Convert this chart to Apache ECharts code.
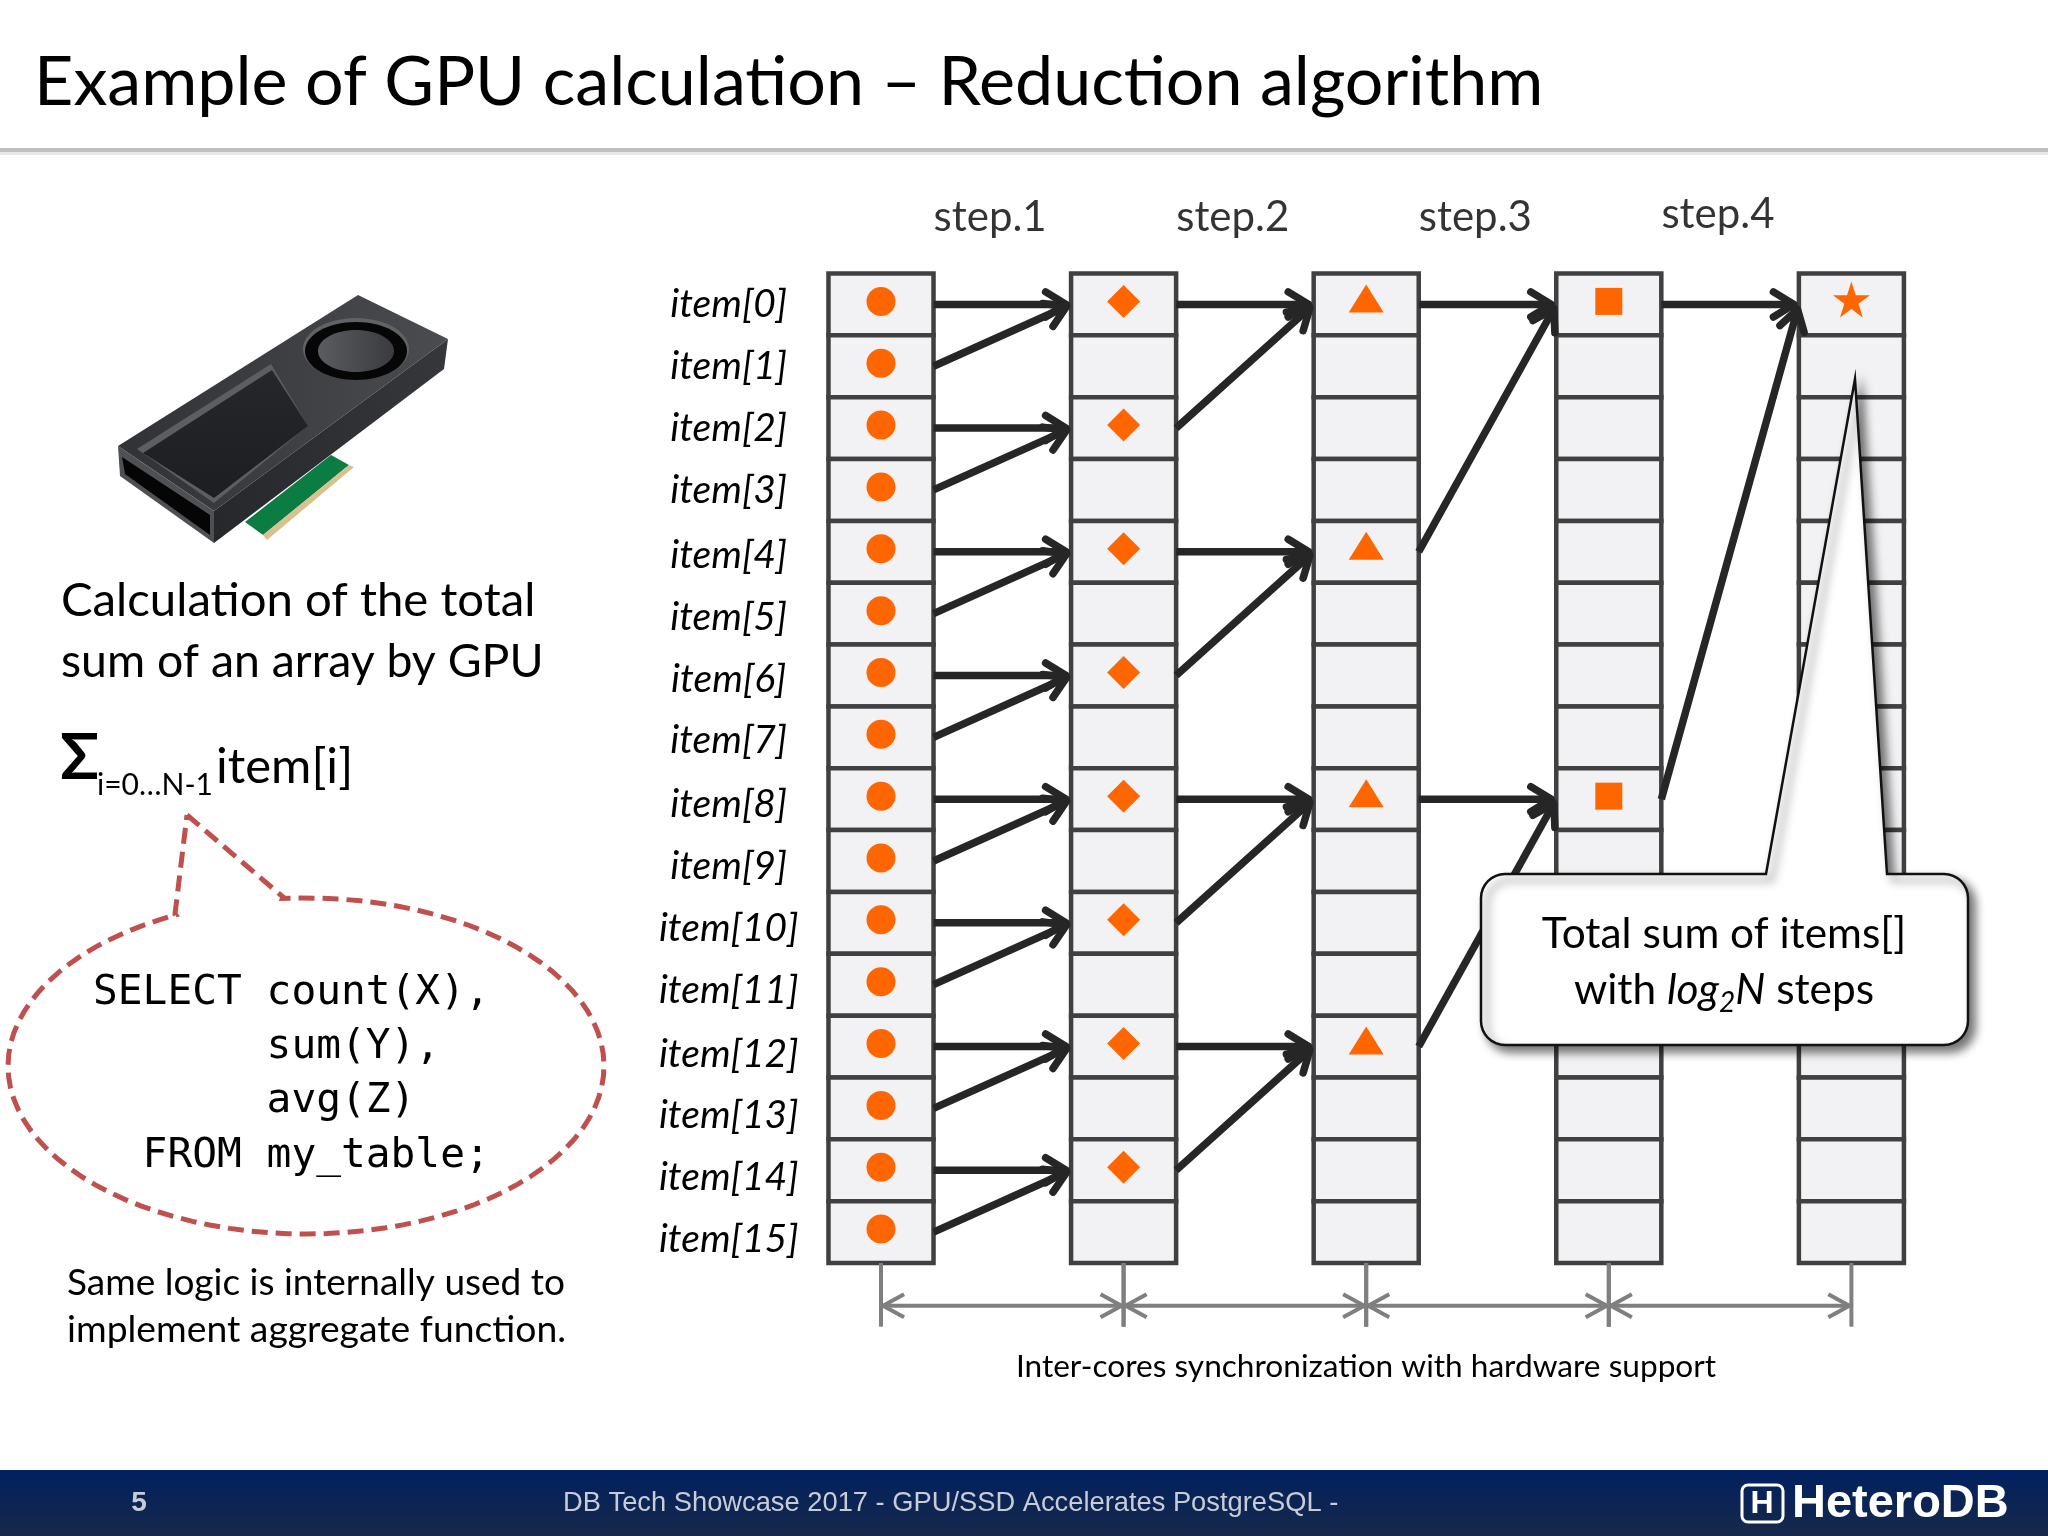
<!DOCTYPE html>
<html>
<head>
<meta charset="utf-8">
<title>Reduction algorithm</title>
<style>html,body{margin:0;padding:0;background:#fff}#chart{width:2048px;height:1536px}</style>
<script src="https://cdn.jsdelivr.net/npm/echarts@6/dist/echarts.min.js"></script>
</head>
<body>
<div id="chart"></div>
<script>
// chart data
const itemLabels = ['item[0]','item[1]','item[2]','item[3]','item[4]','item[5]','item[6]','item[7]','item[8]','item[9]','item[10]','item[11]','item[12]','item[13]','item[14]','item[15]'];
const stepLabels = ['step.1','step.2','step.3','step.4'];
const stepLabelRows = [-1.41,-1.41,-1.41,-1.45];
const columns = [0,1,2,3,4];
const STAR = 'path://M50 0L61.2 34.5H97.6L68.2 55.9L79.4 90.5L50 69.1L20.6 90.5L31.8 55.9L2.4 34.5H38.8Z';
const columnSymbols = ['circle','diamond','triangle','rect',STAR];
const columnSymbolSizes = [29,33,[35,28],27,[37,36]];
const columnSymbolShift = [-3,-3,-6,-3,-5];
// rows that still hold a value in each column
const filledRows = [
    [0,1,2,3,4,5,6,7,8,9,10,11,12,13,14,15],
    [0,2,4,6,8,10,12,14],
    [0,4,8,12],
    [0,8],
    [0]
];
const sqlLines = ['SELECT count(X),','       sum(Y),','       avg(Z)','  FROM my_table;'];

const SANS = 'Lato';
const CELL_W = 0.433;
const SYNC_ROW = 16.19;
const SYNC_END = 16.53;

function txt(x, y, text, size, extra) {
    return {
        type: 'text', x, y, z: 10,
        style: Object.assign({ text, fontSize: size, fontFamily: SANS, fill: '#000', align: 'left', verticalAlign: 'middle' }, extra)
    };
}
function poly(points, fill, extra) {
    return Object.assign({ type: 'polygon', shape: { points }, style: { fill } }, extra);
}
function grad(a, b, horizontal) {
    return { type: 'linear', x: 0, y: 0, x2: horizontal ? 1 : 0, y2: horizontal ? 0 : 1, colorStops: [{ offset: 0, color: a }, { offset: 1, color: b }] };
}
function arcPts(cx, cy, rx, ry, a0, a1, n) {
    const pts = [];
    for (let i = 0; i <= n; i++) {
        const a = a0 + (a1 - a0) * i / n;
        pts.push([cx + rx * Math.cos(a), cy + ry * Math.sin(a)]);
    }
    return pts;
}

// speech bubble with the SQL
function bubblePoints() {
    return [[187, 815], [283, 897]]
        .concat(arcPts(306, 1066, 298, 168, -1.65, 4.26, 90))
        .concat([[175, 914], [187, 815]]);
}
// callout shape at the right
function calloutPoints() {
    const L = 1481, R = 1968, T = 874, B = 1045, r = 24, H = Math.PI / 2;
    return [[1855, 379], [1887, T]]
        .concat(arcPts(R - r, T + r, r, r, -H, 0, 8))
        .concat(arcPts(R - r, B - r, r, r, 0, H, 8))
        .concat(arcPts(L + r, B - r, r, r, H, 2 * H, 8))
        .concat(arcPts(L + r, T + r, r, r, 2 * H, 3 * H, 8))
        .concat([[1766, T]]);
}

// GPU card
const gpuCard = [
    poly([[331,455],[349,465],[263,535],[245,522]], '#0b7d43'),
    poly([[349,465],[354,467],[267,540],[263,535]], '#d9c08f'),
    poly([[118,446],[358,295],[448,339],[214,511]], grad('#303236', '#4a4c50', true)),
    poly([[214,511],[448,339],[444,369],[214,543]], grad('#26282b', '#35373b', true)),
    poly([[118,446],[214,511],[214,543],[120,476]], '#4e5054'),
    poly([[122,457],[210,515],[210,535],[125,474]], '#050506'),
    poly([[137,449],[271,364],[308,426],[214,503]], '#5c5e62'),
    poly([[143,453],[272,370],[308,426],[214,498]], grad('#26272b', '#1d1e21')),
    { type: 'ellipse', shape: { cx: 356, cy: 349, rx: 53, ry: 31 }, style: { fill: '#606266' } },
    { type: 'ellipse', shape: { cx: 356, cy: 351, rx: 51, ry: 29 }, style: { fill: '#060607' } },
    { type: 'ellipse', shape: { cx: 356, cy: 351, rx: 38, ry: 21 }, style: { fill: grad('#5a5c60', '#3a3b3f', true) } }
];

// header and footer
const frame = [
    { type: 'rect', shape: { x: 0, y: 148, width: 2048, height: 4 }, style: { fill: '#bfbfbf' } },
    { type: 'rect', shape: { x: 0, y: 152, width: 2048, height: 3 }, style: { fill: '#e6e6e6' } },
    { type: 'rect', shape: { x: 0, y: 1470, width: 2048, height: 66 }, style: { fill: grad('#002060', '#17294a') } },
    txt(139, 1503, '5', 28, { fontFamily: 'Liberation Sans', fontWeight: 'bold', fill: '#c8ccd4', align: 'center' }),
    txt(563, 1503, 'DB Tech Showcase 2017 - GPU/SSD Accelerates PostgreSQL -', 27.3, { fontFamily: 'Liberation Sans', fill: '#c8ccd4' }),
    { type: 'rect', z: 10, shape: { x: 1742, y: 1485, width: 41, height: 37, r: 6 }, style: { fill: 'none', stroke: '#fff', lineWidth: 3 } },
    txt(1762, 1504, 'H', 32, { fontFamily: 'Liberation Sans', fontWeight: 'bold', fill: '#fff', align: 'center' }),
    txt(1792, 1504, 'HeteroDB', 47, { fontFamily: 'Liberation Sans', fontWeight: 'bold', fill: '#fff' })
];

// left column texts
const leftTexts = [
    txt(61, 601, 'Calculation of the total', 47.3),
    txt(61, 662, 'sum of an array by GPU', 46.4),
    txt(60, 758, 'Σ', 64, { fontWeight: 'bold' }),
    txt(97, 785, 'i=0…N-1', 30),
    txt(216, 767, 'item[i]', 49),
    txt(67, 1283, 'Same logic is internally used to', 37),
    txt(67, 1330, 'implement aggregate function.', 37.3),
    txt(1366, 1367, 'Inter-cores synchronization with hardware support', 31.6, { align: 'center' })
].concat(sqlLines.map((line, i) => txt(93, 993 + i * 54.4, line, 41.2, { fontFamily: 'DejaVu Sans Mono' })));

const bubble = {
    type: 'polyline', z: 5, shape: { points: bubblePoints() },
    style: { fill: 'none', stroke: '#c0504d', lineWidth: 5, lineDash: [16, 8] }
};

const callout = [
    poly(calloutPoints(), '#fff', {
        z: 20,
        style: { fill: '#fff', stroke: '#111', lineWidth: 2.5, shadowBlur: 10, shadowOffsetX: 6, shadowOffsetY: 6, shadowColor: 'rgba(0,0,0,0.55)' }
    }),
    Object.assign(txt(1724, 934, 'Total sum of items[]', 42.4, { align: 'center' }), { z: 21 }),
    Object.assign(txt(1724, 990, '{a|with }{i|log}{s|2}{i|N}{a| steps}', 42, {
        align: 'center',
        rich: {
            a: { fontSize: 42.4, fontFamily: SANS, fill: '#000' },
            i: { fontSize: 42.4, fontFamily: SANS, fontStyle: 'italic', fill: '#000' },
            s: { fontSize: 28, fontFamily: SANS, fontStyle: 'italic', fill: '#000', padding: [26, 0, 0, 0] }
        }
    }), { z: 21 })
];

// series data built from the lists above
const cellData = [];
columns.forEach(c => itemLabels.forEach((_, r) => cellData.push([c, r])));

const arrowData = [];
filledRows.slice(0, -1).forEach((rows, c) => {
    rows.forEach((r, j) => arrowData.push([c, r, c + 1, filledRows[c + 1][j >> 1]]));
});

const syncData = columns.slice(0, -1).map(c => [c, c + 1]);

function renderCell(params, api) {
    const p = api.coord([api.value(0), api.value(1)]);
    const s = api.size([CELL_W, 1]);
    return {
        type: 'rect',
        shape: { x: p[0] - s[0] / 2, y: p[1] - s[1] / 2, width: s[0], height: s[1] },
        style: { fill: '#f2f2f4', stroke: '#404040', lineWidth: 4.5 }
    };
}

function head(tip, angle, len, spread) {
    return [
        [tip[0] - len * Math.cos(angle - spread), tip[1] - len * Math.sin(angle - spread)],
        tip,
        [tip[0] - len * Math.cos(angle + spread), tip[1] - len * Math.sin(angle + spread)]
    ];
}

function renderArrow(params, api) {
    const a = api.coord([api.value(0) + CELL_W / 2, api.value(1)]);
    const b = api.coord([api.value(2) - CELL_W / 2, api.value(3)]);
    const angle = Math.atan2(b[1] - a[1], b[0] - a[0]);
    const tip = [b[0] - 5 * Math.cos(angle), b[1] - 5 * Math.sin(angle)];
    const stroke = { fill: 'none', stroke: '#262626', lineWidth: 7.5 };
    return {
        type: 'group',
        children: [
            { type: 'line', shape: { x1: a[0], y1: a[1], x2: tip[0], y2: tip[1] }, style: stroke },
            { type: 'polyline', shape: { points: head(tip, angle, 24, 0.55) }, style: Object.assign({ lineCap: 'round', lineJoin: 'round' }, stroke) }
        ]
    };
}

function renderSync(params, api) {
    const a = api.coord([api.value(0), SYNC_ROW]);
    const b = api.coord([api.value(1), SYNC_ROW]);
    const stroke = { fill: 'none', stroke: '#7f7f7f', lineWidth: 4 };
    const top = api.coord([0, 15.5])[1];
    const bottom = api.coord([0, SYNC_END])[1];
    const children = [
        { type: 'line', shape: { x1: a[0] + 2, y1: a[1], x2: b[0] - 2, y2: b[1] }, style: stroke },
        { type: 'polyline', shape: { points: head([b[0] - 2, b[1]], 0, 24, 0.5) }, style: stroke },
        { type: 'polyline', shape: { points: head([a[0] + 2, a[1]], Math.PI, 24, 0.5) }, style: stroke },
        { type: 'line', shape: { x1: a[0], y1: top, x2: a[0], y2: bottom }, style: stroke },
        { type: 'line', shape: { x1: b[0], y1: top, x2: b[0], y2: bottom }, style: stroke }
    ];
    return { type: 'group', children };
}

const markSeries = columns.map(c => ({
    type: 'scatter',
    xAxisIndex: 0,
    yAxisIndex: 0,
    z: 4,
    symbol: columnSymbols[c],
    symbolSize: columnSymbolSizes[c],
    symbolOffset: [0, columnSymbolShift[c]],
    itemStyle: { color: '#ff6600', opacity: 1 },
    data: filledRows[c].map(r => [c, r])
}));

const labelStyle = { fontFamily: SANS, fontStyle: 'italic', fontSize: 39, color: '#000' };

const chart = echarts.init(document.getElementById('chart'), null, { renderer: 'canvas' });

chart.setOption({
    animation: false,
    backgroundColor: '#fff',
    title: {
        text: 'Example of GPU calculation – Reduction algorithm',
        left: 34,
        top: 49,
        padding: 0,
        textStyle: { fontFamily: SANS, fontSize: 68.2, fontWeight: 'normal', color: '#000' }
    },
    grid: { left: 759.7, top: 273.5, width: 1213, height: 989.5, containLabel: false },
    xAxis: { type: 'value', min: -0.5, max: 4.5, show: false },
    yAxis: [
        { type: 'value', min: -0.5, max: 15.5, inverse: true, show: false },
        {
            type: 'category',
            data: itemLabels,
            inverse: true,
            position: 'left',
            axisLine: { show: false },
            axisTick: { show: false },
            splitLine: { show: false },
            axisLabel: {
                interval: 0,
                align: 'center',
                margin: 31,
                formatter: (v, i) => `{g${i >> 2}|${v}}`,
                rich: {
                    g0: Object.assign({}, labelStyle),
                    g1: Object.assign({ padding: [7, 0, 0, 0] }, labelStyle),
                    g2: Object.assign({ padding: [11, 0, 0, 0] }, labelStyle),
                    g3: Object.assign({ padding: [15, 0, 0, 0] }, labelStyle)
                }
            }
        }
    ],
    series: [
        {
            type: 'custom', name: 'cells', xAxisIndex: 0, yAxisIndex: 0, z: 2,
            renderItem: renderCell, encode: { x: 0, y: 1 }, data: cellData
        },
        {
            type: 'custom', name: 'merge', xAxisIndex: 0, yAxisIndex: 0, z: 3,
            renderItem: renderArrow, encode: { x: [0, 2], y: [1, 3] }, data: arrowData
        },
        {
            type: 'custom', name: 'sync', xAxisIndex: 0, yAxisIndex: 0, z: 3,
            renderItem: renderSync, encode: { x: [0, 1] }, data: syncData
        },
        {
            type: 'scatter', name: 'steps', xAxisIndex: 0, yAxisIndex: 0, z: 4, clip: false,
            symbolSize: 0,
            label: {
                show: true, position: 'inside', fontFamily: SANS, fontSize: 42, color: '#000',
                formatter: p => stepLabels[p.dataIndex]
            },
            data: stepLabels.map((_, i) => [i + 0.45, stepLabelRows[i]])
        }
    ].concat(markSeries),
    graphic: { elements: frame.concat(gpuCard, leftTexts, [bubble], callout) }
});
</script>
</body>
</html>
